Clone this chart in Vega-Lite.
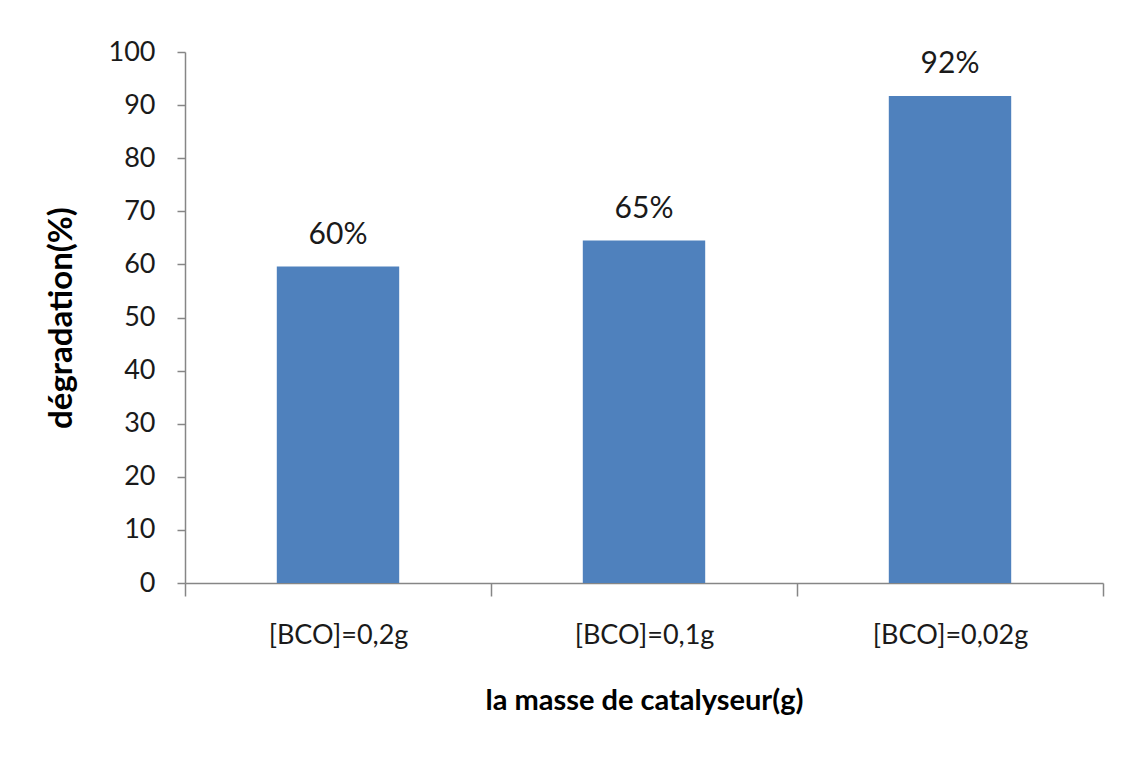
{
  "$schema": "https://vega.github.io/schema/vega-lite/v6.json",
  "width": 918,
  "height": 531,
  "autosize": {"type": "none"},
  "padding": {"left": 185, "top": 52, "right": 21, "bottom": 179},
  "background": "white",
  "config": {
    "view": {"stroke": null},
    "font": "Lato",
    "axis": {"grid": false, "domainColor": "#868686", "tickColor": "#868686", "domainWidth": 1.5, "tickWidth": 1.5, "labelColor": "#1a1a1a", "titleColor": "#000000", "labelFont": "Lato", "titleFont": "Lato"}
  },
  "data": {
    "values": [
      {"masse": "[BCO]=0,2g", "degradation": 59.6, "label": "60%"},
      {"masse": "[BCO]=0,1g", "degradation": 64.5, "label": "65%"},
      {"masse": "[BCO]=0,02g", "degradation": 91.7, "label": "92%"}
    ]
  },
  "encoding": {
    "x": {
      "field": "masse",
      "type": "nominal",
      "sort": null,
      "scale": {"paddingInner": 0, "paddingOuter": 0},
      "axis": {
        "title": "la masse de catalyseur(g)",
        "titleFontSize": 29,
        "titleFontWeight": "bold",
        "titlePadding": 38,
        "labelAngle": 0,
        "labelFontSize": 27,
        "labelPadding": 26,
        "tickSize": 13,
        "tickBand": "extent"
      }
    },
    "y": {
      "field": "degradation",
      "type": "quantitative",
      "scale": {"domain": [0, 100], "nice": false},
      "axis": {
        "title": "dégradation(%)",
        "titleFontSize": 33,
        "titleFontWeight": "bold",
        "titlePadding": 30,
        "values": [0, 10, 20, 30, 40, 50, 60, 70, 80, 90, 100],
        "labelFontSize": 27,
        "labelPadding": 22,
        "tickSize": 8
      }
    }
  },
  "layer": [
    {"mark": {"type": "bar", "color": "#4F81BD", "width": {"band": 0.4}}},
    {
      "mark": {"type": "text", "dy": -32, "fontSize": 30, "color": "#1a1a1a", "font": "Lato"},
      "encoding": {"text": {"field": "label"}}
    }
  ]
}
